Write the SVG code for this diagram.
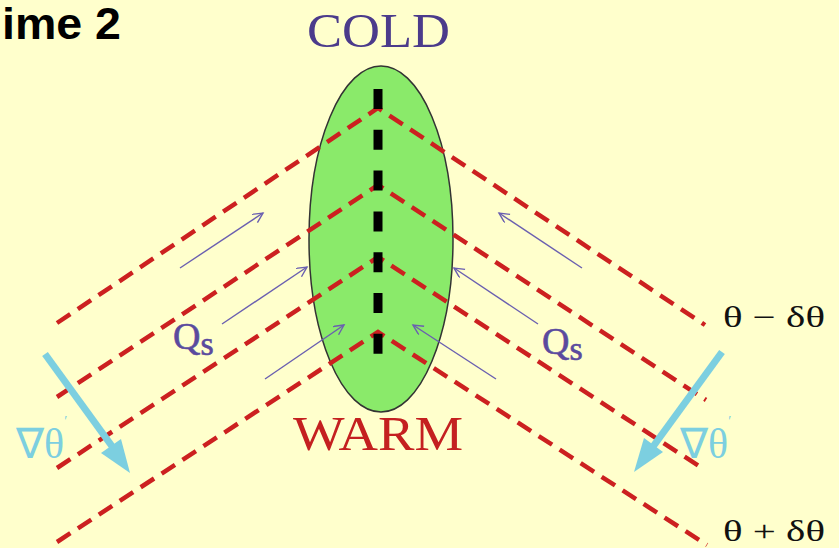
<svg xmlns="http://www.w3.org/2000/svg" width="839" height="548" viewBox="0 0 839 548">
<defs>
<style>
.serif{font-family:"Liberation Serif","Times New Roman",serif}
.red{fill:none;stroke:#cc2020;stroke-width:4.5;stroke-dasharray:16 9}
.flux{fill:none;stroke:#6a5fb0;stroke-width:1.4}
.grad{fill:none;stroke:#7ccfe0;stroke-width:7}
.gradhead{fill:#7ccfe0}
.qs{fill:#5a4a9e;font-family:"Liberation Serif","Times New Roman",serif;stroke:#5a4a9e;stroke-width:0.6}
.theta{fill:#111;font-family:"Liberation Serif","Times New Roman",serif;font-size:30px}
.nabla{fill:#7ccfe0;font-family:"Liberation Serif","Times New Roman",serif;font-size:42px}
</style>
<marker id="vhead" markerWidth="14" markerHeight="12" refX="11" refY="5" orient="auto" markerUnits="userSpaceOnUse">
<path d="M1,0 L11,5 L1,10" fill="none" stroke="#6a5fb0" stroke-width="1.4"/>
</marker>
</defs>
<rect x="0" y="0" width="839" height="548" fill="#ffffcc"/>
<g id="title">
<text x="2" y="39" font-family="Liberation Sans, Arial, sans-serif" font-weight="bold" font-size="44" textLength="119" lengthAdjust="spacingAndGlyphs" fill="#000">ime 2</text>
</g>
<g id="cold-label">
<text class="serif" x="307" y="47" font-size="48" fill="#4b3b8b" textLength="143" lengthAdjust="spacingAndGlyphs">COLD</text>
</g>
<g id="ellipse-node">
<ellipse cx="381" cy="239" rx="72" ry="173" fill="#8aea6a" stroke="#333" stroke-width="1.5"/>
</g>
<g id="connectors">
<polyline class="red" points="57,323 378,108 705,325"/>
<polyline class="red" points="57,397 378,185 706,400"/>
<polyline class="red" points="57,468 378,257 705,470"/>
<polyline class="red" points="57,542 378,332 707,545"/>
<line x1="378" y1="89" x2="378" y2="354" stroke="#000" stroke-width="9" stroke-dasharray="20 20.8"/>
<line class="flux" x1="180" y1="268" x2="263" y2="213" marker-end="url(#vhead)"/>
<line class="flux" x1="222" y1="324" x2="307" y2="267" marker-end="url(#vhead)"/>
<line class="flux" x1="265" y1="379" x2="344" y2="325" marker-end="url(#vhead)"/>
<line class="flux" x1="582" y1="268" x2="499" y2="213" marker-end="url(#vhead)"/>
<line class="flux" x1="538" y1="324" x2="454" y2="268" marker-end="url(#vhead)"/>
<line class="flux" x1="496" y1="379" x2="413" y2="325" marker-end="url(#vhead)"/>
<line class="grad" x1="45" y1="354" x2="114" y2="449"/>
<polygon class="gradhead" points="130,473 101,453 121,439"/>
<line class="grad" x1="722" y1="352" x2="652" y2="448"/>
<polygon class="gradhead" points="634,472 644,438 663,452"/>
</g>
<g id="warm-label">
<text class="serif" x="293" y="450" font-size="48" fill="#c42020" textLength="170" lengthAdjust="spacingAndGlyphs">WARM</text>
</g>
<g id="qs-left">
<text class="qs" x="173" y="349" font-size="38">Q<tspan font-size="34" dy="6">s</tspan></text>
</g>
<g id="qs-right">
<text class="qs" x="542" y="354" font-size="38">Q<tspan font-size="34" dy="6">s</tspan></text>
</g>
<g id="theta-minus">
<text class="theta" x="723" y="327" textLength="102" lengthAdjust="spacingAndGlyphs">θ − δθ</text>
</g>
<g id="theta-plus">
<text class="theta" x="723" y="541" font-size="28" textLength="102" lengthAdjust="spacingAndGlyphs">θ + δθ</text>
</g>
<g id="grad-left">
<text class="nabla" x="16" y="458">∇θ<tspan font-size="14" dy="-32">′</tspan></text>
</g>
<g id="grad-right">
<text class="nabla" x="680" y="458">∇θ<tspan font-size="14" dy="-32">′</tspan></text>
</g>
</svg>
